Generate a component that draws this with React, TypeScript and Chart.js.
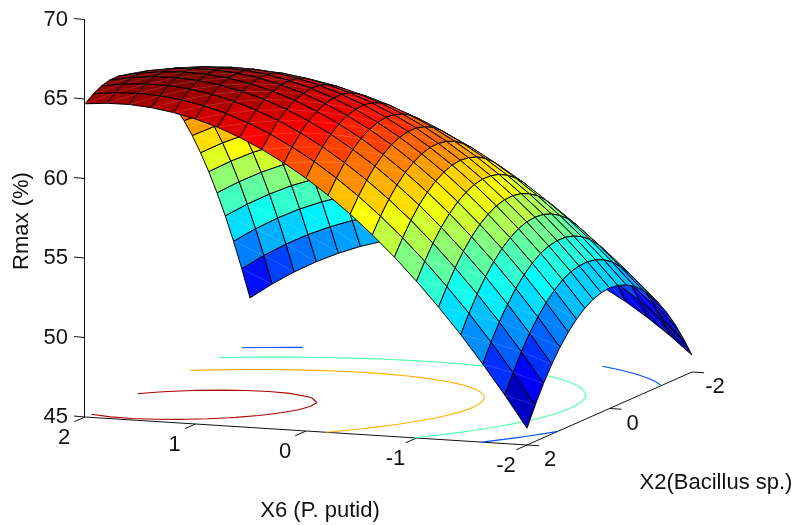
import React, { useEffect, useRef } from "react";
import { Chart, registerables } from "chart.js";

Chart.register(...registerables);

// X6 (P. putid) runs 2 -> -2 along the rows, X2 (Bacillus sp.) runs 2 -> -2 down the rows
const x6Values = [2, 1.8, 1.6, 1.4, 1.2, 1, 0.8, 0.6, 0.4, 0.2, 0, -0.2, -0.4, -0.6, -0.8, -1, -1.2, -1.4, -1.6, -1.8, -2];
const x2Values = [2, 1.8, 1.6, 1.4, 1.2, 1, 0.8, 0.6, 0.4, 0.2, 0, -0.2, -0.4, -0.6, -0.8, -1, -1.2, -1.4, -1.6, -1.8, -2];
const rmaxRows = [
  [64.70, 64.82, 64.83, 64.72, 64.50, 64.18, 63.75, 63.20, 62.54, 61.77, 60.90, 59.91, 58.82, 57.60, 56.29, 54.86, 53.32, 51.68, 49.91, 48.04, 46.06],
  [65.09, 65.25, 65.30, 65.24, 65.06, 64.78, 64.39, 63.88, 63.27, 62.54, 61.71, 60.76, 59.71, 58.54, 57.27, 55.88, 54.38, 52.78, 51.06, 49.23, 47.29],
  [65.37, 65.57, 65.66, 65.65, 65.51, 65.27, 64.92, 64.45, 63.89, 63.20, 62.41, 61.50, 60.49, 59.37, 58.14, 56.79, 55.33, 53.77, 52.10, 50.31, 48.41],
  [65.51, 65.75, 65.89, 65.91, 65.82, 65.62, 65.31, 64.89, 64.36, 63.72, 62.97, 62.10, 61.14, 60.05, 58.87, 57.56, 56.14, 54.63, 52.99, 51.25, 49.39],
  [65.51, 65.80, 65.97, 66.04, 65.98, 65.83, 65.57, 65.18, 64.70, 64.09, 63.39, 62.57, 61.64, 60.60, 59.45, 58.19, 56.82, 55.34, 53.75, 52.04, 50.23],
  [65.39, 65.72, 65.94, 66.04, 66.03, 65.92, 65.70, 65.36, 64.91, 64.35, 63.69, 62.91, 62.03, 61.02, 59.92, 58.70, 57.37, 55.94, 54.38, 52.72, 50.95],
  [65.13, 65.50, 65.76, 65.91, 65.94, 65.87, 65.69, 65.39, 64.99, 64.47, 63.85, 63.11, 62.27, 61.31, 60.25, 59.07, 57.78, 56.39, 54.88, 53.26, 51.53],
  [64.76, 65.17, 65.47, 65.67, 65.74, 65.71, 65.57, 65.31, 64.96, 64.48, 63.90, 63.20, 62.40, 61.49, 60.47, 59.33, 58.08, 56.73, 55.27, 53.69, 52.00],
  [64.24, 64.69, 65.04, 65.27, 65.39, 65.40, 65.30, 65.09, 64.77, 64.34, 63.80, 63.14, 62.39, 61.51, 60.54, 59.44, 58.23, 56.93, 55.50, 53.97, 52.32],
  [63.59, 64.09, 64.47, 64.75, 64.90, 64.96, 64.91, 64.73, 64.46, 64.06, 63.57, 62.96, 62.24, 61.41, 60.47, 59.42, 58.26, 56.99, 55.61, 54.11, 52.51],
  [62.82, 63.36, 63.79, 64.10, 64.30, 64.40, 64.39, 64.26, 64.02, 63.67, 63.22, 62.65, 61.98, 61.18, 60.29, 59.28, 58.16, 56.94, 55.59, 54.14, 52.58],
  [61.91, 62.49, 62.96, 63.32, 63.56, 63.70, 63.73, 63.64, 63.45, 63.14, 62.73, 62.20, 61.57, 60.82, 59.97, 59.00, 57.92, 56.74, 55.44, 54.03, 52.51],
  [60.88, 61.50, 62.01, 62.42, 62.70, 62.88, 62.95, 62.90, 62.76, 62.49, 62.12, 61.63, 61.04, 60.34, 59.53, 58.60, 57.56, 56.42, 55.17, 53.80, 52.32],
  [59.72, 60.38, 60.94, 61.38, 61.71, 61.93, 62.04, 62.04, 61.93, 61.71, 61.38, 60.93, 60.39, 59.72, 58.96, 58.07, 57.07, 55.98, 54.76, 53.44, 52.00],
  [58.41, 59.12, 59.71, 60.20, 60.56, 60.83, 60.99, 61.02, 60.96, 60.77, 60.49, 60.09, 59.58, 58.96, 58.23, 57.39, 56.44, 55.38, 54.21, 52.92, 51.53],
  [56.99, 57.74, 58.38, 58.90, 59.31, 59.62, 59.82, 59.90, 59.87, 59.73, 59.49, 59.13, 58.67, 58.08, 57.40, 56.60, 55.69, 54.68, 53.54, 52.30, 50.95],
  [55.43, 56.22, 56.90, 57.47, 57.92, 58.27, 58.51, 58.63, 58.65, 58.55, 58.35, 58.03, 57.61, 57.07, 56.43, 55.67, 54.80, 53.83, 52.74, 51.54, 50.23],
  [53.75, 54.58, 55.30, 55.92, 56.41, 56.80, 57.08, 57.24, 57.31, 57.25, 57.09, 56.81, 56.43, 55.94, 55.34, 54.62, 53.79, 52.86, 51.82, 50.66, 49.39],
  [51.93, 52.80, 53.57, 54.22, 54.76, 55.19, 55.51, 55.72, 55.82, 55.81, 55.69, 55.45, 55.12, 54.66, 54.11, 53.43, 52.64, 51.76, 50.75, 49.64, 48.41],
  [49.97, 50.89, 51.69, 52.38, 52.96, 53.44, 53.81, 54.05, 54.20, 54.22, 54.15, 53.96, 53.66, 53.25, 52.73, 52.10, 51.36, 50.51, 49.55, 48.47, 47.29],
  [47.90, 48.86, 49.71, 50.44, 51.06, 51.58, 51.99, 52.28, 52.46, 52.53, 52.50, 52.35, 52.10, 51.72, 51.25, 50.66, 49.96, 49.16, 48.23, 47.20, 46.06],
];
const contourLevels = [50, 55, 60, 65];
const zTicks = [45, 50, 55, 60, 65, 70];
const x6Ticks = [2, 1, 0, -1, -2];
const x2Ticks = [2, 0, -2];

// box projection (orthographic): canvas pixels per unit fraction of each box edge
const FRONT_X = 442, FRONT_Y = 28, SIDE_X = 165, SIDE_Y = -73, PX_PER_Z = 15.9, FLOOR_Z = 45;

type Pt = { x: number; y: number };
const frontFrac = (u: number) => (2 - u) / 4;
const sideFrac = (v: number) => (2 - v) / 4;
const project = (u: number, v: number, z: number): Pt => {
  const s = frontFrac(u), t = sideFrac(v);
  return { x: FRONT_X * s + SIDE_X * t, y: z - (FRONT_Y * s + SIDE_Y * t) / PX_PER_Z };
};

function jet(z: number, lo: number, hi: number): string {
  const idx = Math.min(63, Math.max(0, Math.floor(((z - lo) / (hi - lo)) * 64)));
  const f = (idx + 1) / 64;
  const ch = (d: number) => Math.round(255 * Math.max(0, Math.min(1, 1.5 - Math.abs(4 * f - d))));
  return `rgb(${ch(3)},${ch(2)},${ch(1)})`;
}

function contourSegments(level: number): Pt[] {
  const out: Pt[] = [];
  for (let j = 0; j < x2Values.length - 1; j++) {
    for (let i = 0; i < x6Values.length - 1; i++) {
      const corners: [number, number][] = [[i, j], [i + 1, j], [i + 1, j + 1], [i, j + 1]];
      const hits: Pt[] = [];
      for (let k = 0; k < 4; k++) {
        const [i0, j0] = corners[k];
        const [i1, j1] = corners[(k + 1) % 4];
        const a = rmaxRows[j0][i0], b = rmaxRows[j1][i1];
        if (a < level !== b < level) {
          const f = (level - a) / (b - a);
          const u = x6Values[i0] + f * (x6Values[i1] - x6Values[i0]);
          const v = x2Values[j0] + f * (x2Values[j1] - x2Values[j0]);
          hits.push(project(u, v, FLOOR_Z));
        }
      }
      for (let h = 0; h + 1 < hits.length; h += 2) {
        out.push(hits[h], hits[h + 1], { x: NaN, y: NaN });
      }
    }
  }
  return out;
}

function buildDatasets() {
  const all = rmaxRows.flat();
  const lo = Math.min(...all), hi = Math.max(...all);
  const line = (data: Pt[], color: string, width = 1) => ({
    type: "scatter" as const,
    data,
    showLine: true,
    borderColor: color,
    borderWidth: width,
    pointRadius: 0,
    fill: false,
    clip: false,
    spanGaps: false,
  });
  const sets: any[] = [];

  // axes
  sets.push(line([{ x: -0.5, y: 70 }, { x: -0.5, y: FLOOR_Z }], "#111"));
  sets.push(line([project(2, 2, FLOOR_Z), project(-2, 2, FLOOR_Z), project(-2, -2, FLOOR_Z)], "#111"));
  zTicks.forEach((z) => sets.push(line([{ x: -0.5, y: z }, { x: -11, y: z + 0.06 }], "#111")));
  x6Ticks.forEach((u) => sets.push(line([project(u, 2, FLOOR_Z), project(u, 2.26, FLOOR_Z)], "#111")));
  x2Ticks.forEach((v) => sets.push(line([project(-2, v, FLOOR_Z), project(-2.11, v, FLOOR_Z)], "#111")));

  // floor contours
  contourLevels.forEach((level) => sets.push(line(contourSegments(level), jet(level, lo, hi), 1.1)));

  // surface, painted from the far row to the near row
  for (let j = x2Values.length - 2; j >= 0; j--) {
    for (let i = 0; i < x6Values.length - 1; i++) {
      const p = (a: number, b: number) => project(x6Values[a], x2Values[b], rmaxRows[b][a]);
      const face = [p(i, j), p(i + 1, j), p(i + 1, j + 1), p(i, j + 1), p(i, j)];
      // flat colour comes from the lowest X6 / lowest X2 corner of the cell
      const color = jet(rmaxRows[j + 1][i + 1], lo, hi);
      sets.push({ ...line(face, "#000", 1), fill: "shape", backgroundColor: color });
      sets.push(line([p(i, j), p(i + 1, j + 1)], "rgba(255,255,255,0.22)", 0.7));
    }
  }
  // Chart.js paints the first dataset last
  return sets.reverse();
}

const X_ORIGIN_PX = 85;

const textPlugin = {
  id: "boxText",
  afterDraw(chart: any) {
    const { ctx, scales } = chart;
    const at = (p: Pt) => ({ x: scales.x.getPixelForValue(p.x), y: scales.y.getPixelForValue(p.y) });
    ctx.save();
    ctx.fillStyle = "#111";
    ctx.textAlign = "center";
    ctx.textBaseline = "middle";
    ctx.font = '22px "Liberation Sans", Arial, sans-serif';
    x6Ticks.forEach((u) => {
      const a = at(project(u, 2, FLOOR_Z));
      ctx.fillText(String(u), a.x - 21, a.y + 21);
    });
    x2Ticks.forEach((v) => {
      const a = at(project(-2, v, FLOOR_Z));
      ctx.fillText(String(v), a.x + 23, a.y + 15);
    });
    ctx.fillText("X6 (P. putid)", 320, 511);
    ctx.fillText("X2(Bacillus sp.)", 716, 483);
    ctx.save();
    ctx.translate(22, 221);
    ctx.rotate(-Math.PI / 2);
    ctx.fillText("Rmax (%)", 0, 0);
    ctx.restore();
    ctx.restore();
  },
};

export default function App() {
  const ref = useRef<HTMLCanvasElement>(null);
  useEffect(() => {
    document.body.style.margin = "0";
    const chart = new Chart(ref.current!, {
      type: "scatter",
      data: { datasets: buildDatasets() },
      plugins: [textPlugin],
      options: {
        responsive: false,
        animation: false,
        events: [],
        layout: { padding: { top: 10, bottom: 25, left: 0, right: 0 } },
        plugins: { legend: { display: false }, tooltip: { enabled: false }, title: { display: false } },
        scales: {
          x: { type: "linear", display: false, min: 72 - X_ORIGIN_PX, max: 793 - X_ORIGIN_PX },
          y: {
            type: "linear",
            min: FLOOR_Z - (500 - 417) / PX_PER_Z,
            max: FLOOR_Z + (417 - 10) / PX_PER_Z,
            afterBuildTicks: (s: any) => {
              s.ticks = zTicks.map((value) => ({ value }));
            },
            afterFit: (s: any) => {
              s.width = 72;
              s.paddingTop = 0;
              s.paddingBottom = 0;
            },
            border: { display: false },
            grid: { display: false, drawTicks: false },
            ticks: {
              color: "#111",
              padding: 4,
              font: { family: '"Liberation Sans", Arial, sans-serif', size: 22 },
            },
          },
        },
      },
    });
    return () => chart.destroy();
  }, []);
  return <canvas ref={ref} width={793} height={525} style={{ display: "block" }} />;
}
